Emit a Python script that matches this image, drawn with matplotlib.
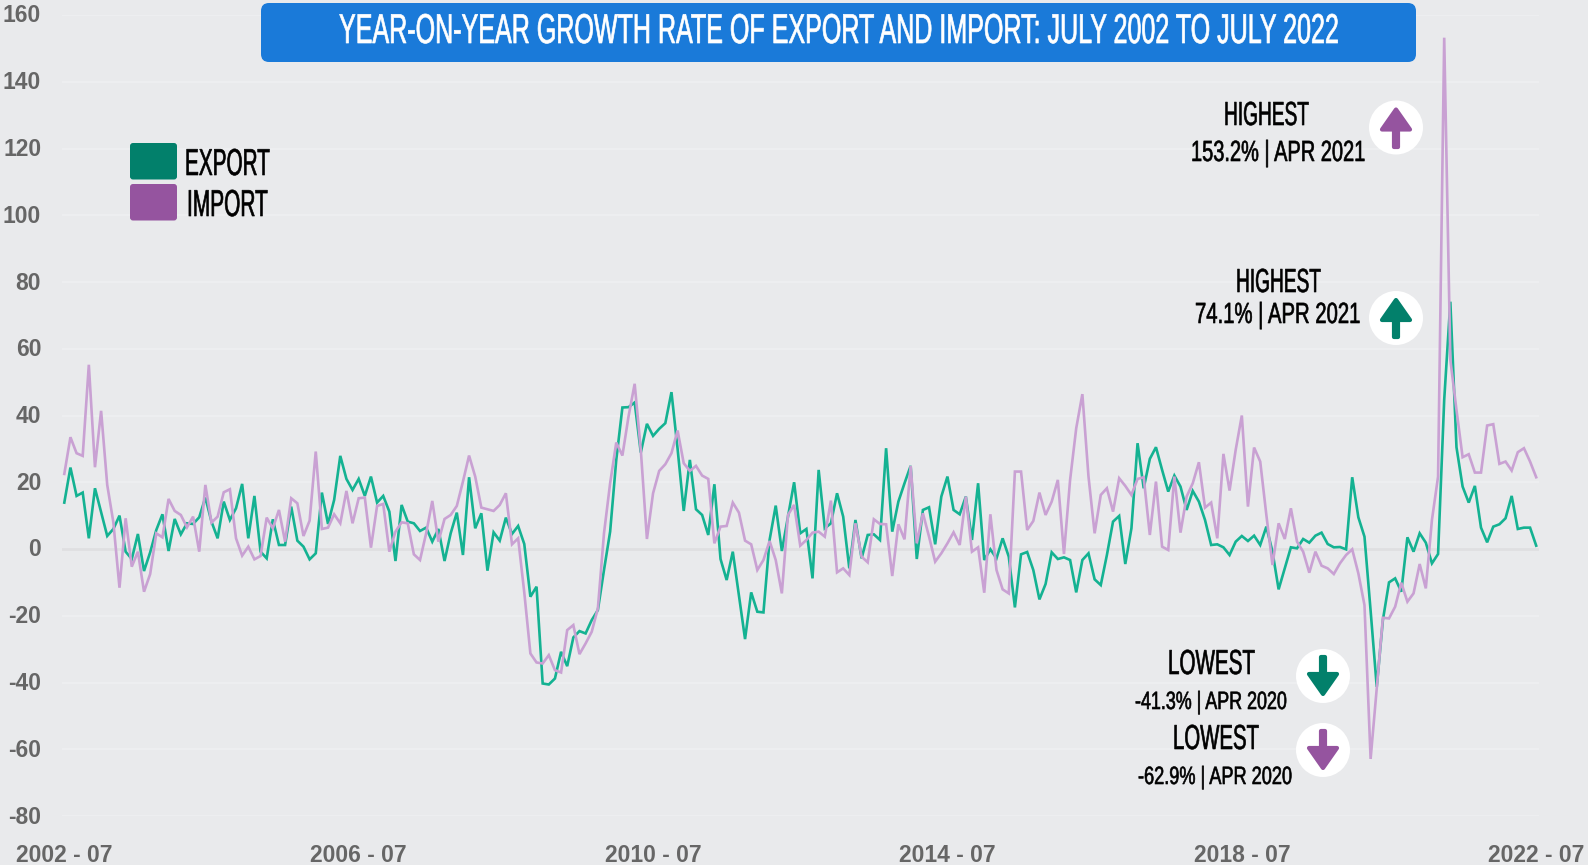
import matplotlib
matplotlib.use("Agg")
import matplotlib.pyplot as plt
from matplotlib.patches import FancyBboxPatch, Circle, Polygon
from matplotlib.patheffects import AbstractPathEffect
from matplotlib.text import Text
from matplotlib.transforms import Affine2D, Bbox

W, H = 1588, 865

TITLE = "YEAR-ON-YEAR GROWTH RATE OF EXPORT AND IMPORT: JULY 2002 TO JULY 2022"
x_labels = ["2002 - 07", "2006 - 07", "2010 - 07", "2014 - 07", "2018 - 07", "2022 - 07"]
x_label_months = [0, 48, 96, 144, 192, 240]
y_ticks = [-80, -60, -40, -20, 0, 20, 40, 60, 80, 100, 120, 140, 160]

export = [
 13.9,24.4,15.9,16.9,3.2,18.2,11.0,3.9,6.0,10.0,-0.8,-3.0,4.5,-6.6,-1.0,5.7,10.4,-0.6,9.0,4.4,
 7.7,7.5,9.5,15.4,8.2,3.2,14.2,8.7,12.2,19.5,3.2,15.9,-0.8,-2.8,8.9,1.2,1.2,12.7,2.5,0.7,
 -3.1,-1.3,16.9,7.5,14.7,27.9,21.0,17.7,21.0,15.9,21.7,13.9,15.9,11.2,-3.6,13.2,8.2,7.7,5.4,6.4,
 2.2,6.0,-3.6,4.7,10.9,-1.8,21.5,6.2,10.7,-6.5,5.0,2.5,9.4,4.5,6.9,1.5,-14.3,-11.3,-40.3,-40.6,
 -38.8,-30.8,-35.1,-26.5,-24.6,-25.3,-21.3,-18.3,-6.3,5.2,26.7,42.4,42.5,43.9,28.9,37.5,33.9,36.0,37.7,47.0,
 30.0,11.4,26.7,11.9,10.2,4.2,19.4,-3.0,-9.3,-0.8,-13.8,-27.0,-13.0,-18.8,-19.0,2.7,13.0,-0.6,9.7,20.0,
 4.7,6.0,-8.8,23.7,6.2,7.7,16.7,9.7,-5.8,8.7,-2.8,4.2,4.4,2.7,30.2,5.2,14.2,19.7,24.9,-3.0,
 11.7,12.5,1.4,15.7,21.7,11.7,10.4,15.7,2.7,19.7,-3.3,-0.1,-2.8,3.2,-2.3,-17.5,-1.6,-0.9,-6.3,-15.1,
 -10.5,-1.0,-3.0,-2.5,-3.3,-13.0,-3.3,-1.3,-9.1,-10.8,-1.8,8.2,9.9,-4.5,6.2,31.7,18.2,27.0,30.5,23.7,
 17.2,22.0,18.7,11.7,17.4,14.2,8.7,1.2,1.4,0.5,-1.8,2.2,3.9,2.4,4.0,1.2,6.7,-0.8,-12.1,-5.8,
 0.5,0.2,3.0,1.9,4.0,4.9,1.5,0.5,0.6,-0.1,21.5,9.5,3.7,-18.5,-41.3,-21.3,-10.0,-8.8,-12.8,3.5,
 -0.8,4.7,1.9,-4.3,-1.5,44.7,74.1,30.5,18.7,13.9,18.9,6.4,2.0,6.7,7.4,9.2,15.9,6.0,6.4,6.4,
 1.0,
]

imports = [
 22.5,33.5,28.7,27.9,55.2,24.5,41.4,19.2,8.0,-11.6,9.2,-5.3,-0.8,-12.8,-7.5,4.7,3.5,15.0,11.4,10.2,
 6.5,9.7,-0.8,19.2,7.9,9.7,17.0,17.9,3.2,-2.0,0.7,-3.1,-2.1,9.4,6.2,11.7,2.2,15.2,13.7,3.9,
 8.5,29.2,6.0,6.4,10.4,7.7,17.4,7.7,15.2,15.4,0.4,12.9,13.5,-0.8,5.2,8.0,7.7,-1.6,-3.3,4.7,
 14.4,2.2,9.0,10.2,12.9,20.2,28.0,21.7,12.4,11.9,11.4,13.2,16.7,1.4,3.2,-13.0,-31.3,-34.0,-34.3,-31.8,
 -36.3,-37.0,-24.3,-22.8,-31.5,-28.3,-24.8,-17.8,4.7,19.7,31.9,28.0,39.7,49.5,29.7,3.0,16.7,23.4,25.4,28.7,
 35.5,25.7,23.4,24.9,22.0,21.0,1.7,6.7,6.9,13.9,10.9,2.5,1.4,-6.3,-3.3,2.4,-3.3,-13.3,10.2,13.2,
 1.0,2.7,4.9,5.2,3.7,14.5,-7.0,-5.8,-7.8,7.7,-2.3,-4.0,8.9,7.5,7.4,-8.1,7.4,2.9,24.9,1.7,
 10.7,3.7,-3.8,-1.3,1.7,5.0,1.2,15.7,-0.8,0.5,-13.1,10.4,-6.3,-12.1,-13.3,23.2,23.2,5.7,8.4,16.9,
 10.2,14.2,20.7,-1.5,20.7,36.2,46.4,21.7,4.7,16.2,18.2,11.2,21.2,18.9,16.2,21.0,21.5,4.2,20.2,0.7,
 -0.3,21.7,4.9,15.7,19.7,26.0,12.4,13.9,3.2,28.5,17.5,29.7,40.0,12.7,30.4,26.2,10.2,-4.8,7.7,3.0,
 12.2,2.2,-0.8,-7.1,-0.8,-5.0,-5.8,-7.5,-4.3,-1.8,-0.1,-7.3,-16.8,-62.9,-41.8,-20.6,-20.8,-17.3,-10.1,-15.8,
 -13.3,-4.5,-11.8,8.7,21.7,153.2,56.7,41.7,27.5,28.4,22.9,22.9,37.0,37.4,25.5,26.2,23.5,29.0,30.2,26.2,
 21.5,
]
months = list(range(len(export)))

BG = "#e9eaec"
EXP_LINE, IMP_LINE = "#14b292", "#c9a1d3"
EXP_DARK, IMP_DARK = "#02806b", "#95549f"
FONT = ["Liberation Sans", "DejaVu Sans"]

fig = plt.figure(figsize=(W / 100, H / 100), dpi=100, facecolor=BG)
renderer = fig.canvas.get_renderer()

# Plot area in pixels: gridlines run x 62..1539, y value 160 at 15, -80 at 816
px_l, px_r, px_t, px_b = 62, 1539, 15, 816
ax = fig.add_axes([px_l / W, 1 - px_b / H, (px_r - px_l) / W, (px_b - px_t) / H])
ax.set_facecolor(BG)
per_month = 6.133
ax.set_xlim(-(64.3 - px_l) / per_month, 240 + (px_r - 1536.2) / per_month)
ax.set_ylim(-80, 160)
for s in ax.spines.values():
    s.set_visible(False)
ax.set_yticks(y_ticks)
ax.set_yticklabels([str(v) for v in y_ticks], family=FONT, fontweight="bold", fontsize=16.5, color="#666666")
ax.set_xticks(x_label_months)
ax.set_xticklabels(x_labels, family=FONT, fontweight="bold", fontsize=16.5, color="#666666")
ax.tick_params(axis="y", length=0, pad=15)
ax.tick_params(axis="x", length=0, pad=20)
for lab in ax.get_yticklabels():
    lab.set_transform(lab.get_transform() + Affine2D().translate(0, 1.5))
ax.grid(axis="y", color="#efeff1", lw=1.2)
ax.grid(axis="x", visible=False)
ax.set_axisbelow(True)
ax.axhline(0, color="#dfdfe1", lw=2, zorder=1)
ax.plot(months, export, color=EXP_LINE, lw=1.9, solid_joinstyle="miter", zorder=3)
ax.plot(months, imports, color=IMP_LINE, lw=1.9, solid_joinstyle="miter", zorder=4)

# Pixel-space overlay for the infographic furniture
ov = fig.add_axes([0, 0, 1, 1])
ov.set_xlim(0, W)
ov.set_ylim(H, 0)
ov.axis("off")
ov.patch.set_alpha(0)


class Squeeze(AbstractPathEffect):
    """Draw the text's glyphs narrower, with a slight stroke (no condensed font is installed)."""

    def __init__(self, sx, sy, dx, stroke):
        super().__init__()
        self.sx, self.sy, self.dx = sx, sy, dx
        self.stroke = stroke

    def draw_path(self, rend, gc, tpath, affine, rgbFace=None):
        gc0 = rend.new_gc()
        gc0.copy_properties(gc)
        gc0.set_foreground(rgbFace)
        gc0.set_linewidth(self.stroke)
        tr = Affine2D().scale(self.sx, self.sy) + affine + Affine2D().translate(self.dx, 0)
        rend.draw_path(gc0, tpath, tr, rgbFace)
        gc0.restore()


class CondensedText(Text):
    """Real text, fitted to a given width in pixels from its left edge."""

    sx = 1.0
    dx = 0.0

    def get_window_extent(self, renderer=None, dpi=None):
        bb = super().get_window_extent(renderer, dpi)
        x0 = bb.x0 + self.dx
        return Bbox.from_extents(x0, bb.y0, x0 + bb.width * self.sx, bb.y1)


def label(left, right, baseline, s, cap, color="black", stroke=0.45, size=None, anchor=None):
    size = size or cap
    anchor = left if anchor is None else anchor
    t = CondensedText(anchor, baseline, s, family=FONT, fontsize=size, color=color, ha="left", va="baseline")
    ov.add_artist(t)
    natural = Text.get_window_extent(t, renderer).width
    t.sx = (right - left) / natural
    t.dx = left - anchor
    t.set_path_effects([Squeeze(t.sx, cap / size, t.dx, stroke)])
    return t


ov.add_patch(FancyBboxPatch((261, 3), 1155, 59, boxstyle="round,pad=0,rounding_size=8", lw=0, fc="#1a7ad9"))
label(339, 1339, 43, TITLE, 30, color="white", stroke=0.5, size=25, anchor=110)

for y0, col in [(143, EXP_DARK), (184, IMP_DARK)]:
    ov.add_patch(FancyBboxPatch((130, y0), 47, 36.5, boxstyle="round,pad=0,rounding_size=3", lw=0, fc=col))
label(185, 270, 175, "EXPORT", 27)
label(187, 268, 216, "IMPORT", 27)


def badge(cx, cy, up, col):
    ov.add_patch(Circle((cx, cy), 27, fc="white", ec="none"))
    d = -1 if up else 1
    shaft = [(cx - 2, cy - 19 * d), (cx + 2, cy - 19 * d), (cx + 2, cy + 1 * d), (cx - 2, cy + 1 * d)]
    head = [(cx - 14, cy - 2 * d), (cx + 14, cy - 2 * d), (cx, cy + 18 * d)]
    for pts in (shaft, head):
        ov.add_patch(Polygon(pts, closed=True, fc=col, ec=col, lw=3, joinstyle="round"))


badge(1396, 127.5, True, IMP_DARK)
badge(1396, 318, True, EXP_DARK)
badge(1323, 676, False, EXP_DARK)
badge(1323, 750, False, IMP_DARK)

label(1224, 1309, 125, "HIGHEST", 24)
label(1191, 1365, 161, "153.2% | APR 2021", 21)
label(1236, 1321, 292, "HIGHEST", 24)
label(1195, 1360, 323, "74.1% | APR 2021", 21)
label(1168, 1255, 674, "LOWEST", 25)
label(1135, 1287, 709, "-41.3% | APR 2020", 18)
label(1173, 1259, 749, "LOWEST", 25)
label(1138, 1292, 784, "-62.9% | APR 2020", 18)

fig.savefig("out.png", dpi=100, facecolor=BG)
